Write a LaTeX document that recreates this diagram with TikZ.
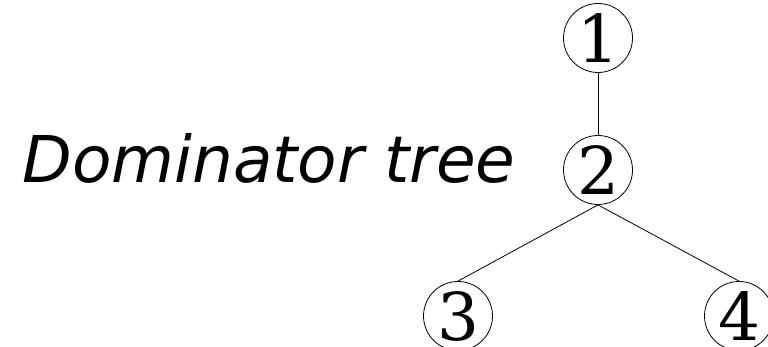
\documentclass[tikz,border=0pt]{standalone}
\usepackage{fontspec}
\setmainfont{DejaVu Serif}
\setsansfont{DejaVu Sans}
\usetikzlibrary{positioning}

\begin{document}
\begin{tikzpicture}[x=1pt, y=-1pt, line width=0.8pt,
  vertex/.style={draw, circle, minimum size=69pt, inner sep=0pt,
    font=\fontsize{66}{70}\selectfont}]
\useasboundingbox (0,0) rectangle (768,347);
% the tree
\node[vertex] (n1) at (598,38) {1};
\node[vertex] (n2) at (598,170) {2};
\node[vertex] (n3) at (458,316) {3};
\node[vertex] (n4) at (739,316) {4};
\draw (n1) -- (n2);
\draw (n2.south) -- (n3.north);
\draw (n2.south) -- (n4.north);
% caption left of the root's child
\node[anchor=base east, inner sep=0pt, font=\fontsize{64.5}{68}\selectfont\sffamily\itshape] (title) at (516,183) {Dominator tree};
\end{tikzpicture}
\end{document}
